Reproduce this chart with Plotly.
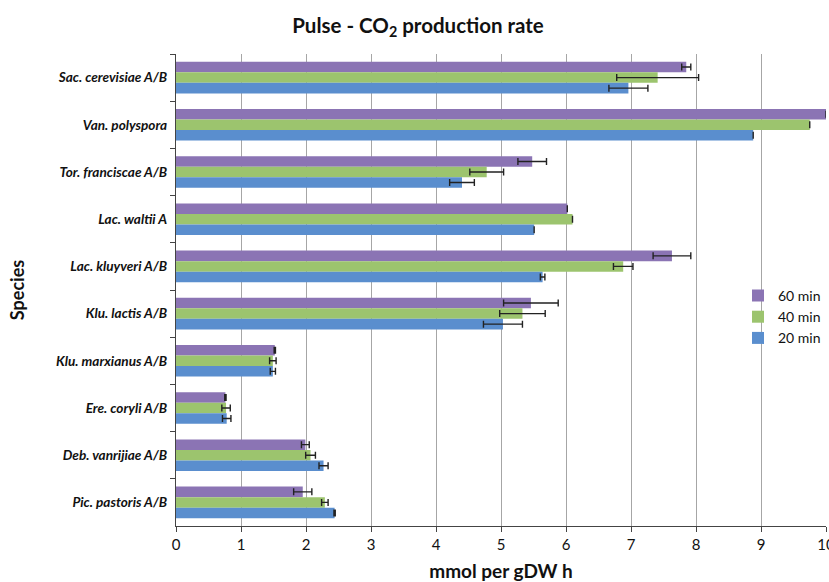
import plotly.graph_objects as go

# Species, listed from top to bottom
species = [
    "Sac. cerevisiae A/B",
    "Van. polyspora",
    "Tor. franciscae A/B",
    "Lac. waltii A",
    "Lac. kluyveri A/B",
    "Klu. lactis A/B",
    "Klu. marxianus A/B",
    "Ere. coryli A/B",
    "Deb. vanrijiae A/B",
    "Pic. pastoris A/B",
]

# CO2 production rate (mmol per gDW h) and error bars per pulse time
rate_60 = [7.85, 10.0, 5.48, 6.02, 7.63, 5.46, 1.52, 0.76, 1.99, 1.95]
err_60 = [0.07, 0.0, 0.22, 0.0, 0.29, 0.42, 0.01, 0.01, 0.06, 0.14]
rate_40 = [7.41, 9.75, 4.78, 6.10, 6.88, 5.33, 1.49, 0.77, 2.07, 2.29]
err_40 = [0.63, 0.0, 0.26, 0.0, 0.15, 0.35, 0.05, 0.065, 0.075, 0.05]
rate_20 = [6.96, 8.88, 4.40, 5.51, 5.64, 5.03, 1.49, 0.78, 2.27, 2.44]
err_20 = [0.30, 0.0, 0.19, 0.0, 0.035, 0.30, 0.04, 0.065, 0.07, 0.01]

series_names = ["60 min", "40 min", "20 min"]
colors = ["#8B74B4", "#9CC46E", "#5A8ECE"]

FONT = "Lato, 'Open Sans', sans-serif"

fig = go.Figure()
for name, vals, errs, col in zip(series_names,
                                  [rate_60, rate_40, rate_20],
                                  [err_60, err_40, err_20],
                                  colors):
    fig.add_trace(go.Bar(
        y=species, x=vals, name=name, orientation="h",
        marker=dict(color=col, line=dict(width=0)),
        error_x=dict(type="data", array=errs, visible=True,
                     color="#222222", thickness=1.4, width=3.5),
    ))

fig.update_layout(
    width=829, height=582,
    margin=dict(l=176, r=3, t=54, b=56),
    paper_bgcolor="white", plot_bgcolor="white",
    barmode="group", bargap=0.33, bargroupgap=0,
    font=dict(family=FONT, color="#111111"),
    title=dict(
        text="<b>Pulse - CO<sub>2</sub> production rate</b>",
        x=418 / 829, xref="container", xanchor="center",
        y=1 - 26 / 582, yref="container", yanchor="middle",
        font=dict(size=20.5, family=FONT, color="#111111"),
    ),
    legend=dict(
        x=1.0, xanchor="right", y=0.443, yanchor="middle",
        bgcolor="rgba(0,0,0,0)", traceorder="normal",
        font=dict(size=14, family=FONT, color="#111111"),
        itemwidth=30, itemsizing="constant", tracegroupgap=8,
    ),
    showlegend=True,
)

fig.update_xaxes(
    range=[0, 10], dtick=1, tick0=0,
    showgrid=True, gridcolor="#A6A6A6", gridwidth=1.3,
    showline=True, linecolor="#444444", linewidth=1.3,
    ticks="outside", ticklen=5, tickcolor="#444444",
    ticklabeloverflow="allow", automargin=False,
    tickfont=dict(size=15, family=FONT, color="#111111"),
    title=dict(text="<b>mmol per gDW h</b>", standoff=12,
               font=dict(size=19, family=FONT, color="#111111")),
    zeroline=False,
)

fig.update_yaxes(
    autorange="reversed", type="category",
    showgrid=False, automargin=False,
    showline=True, linecolor="#444444", linewidth=1.3,
    ticks="outside", ticklen=5, tickcolor="#444444",
    tickson="boundaries", ticklabelstandoff=5,
    tickfont=dict(size=13.6, family=FONT, color="#111111"),
    tickprefix="<b><i>", ticksuffix="</i></b>",
    title=dict(text="<b>Species</b>", standoff=26,
               font=dict(size=18, family=FONT, color="#111111")),
)

fig.write_html("out.html")
